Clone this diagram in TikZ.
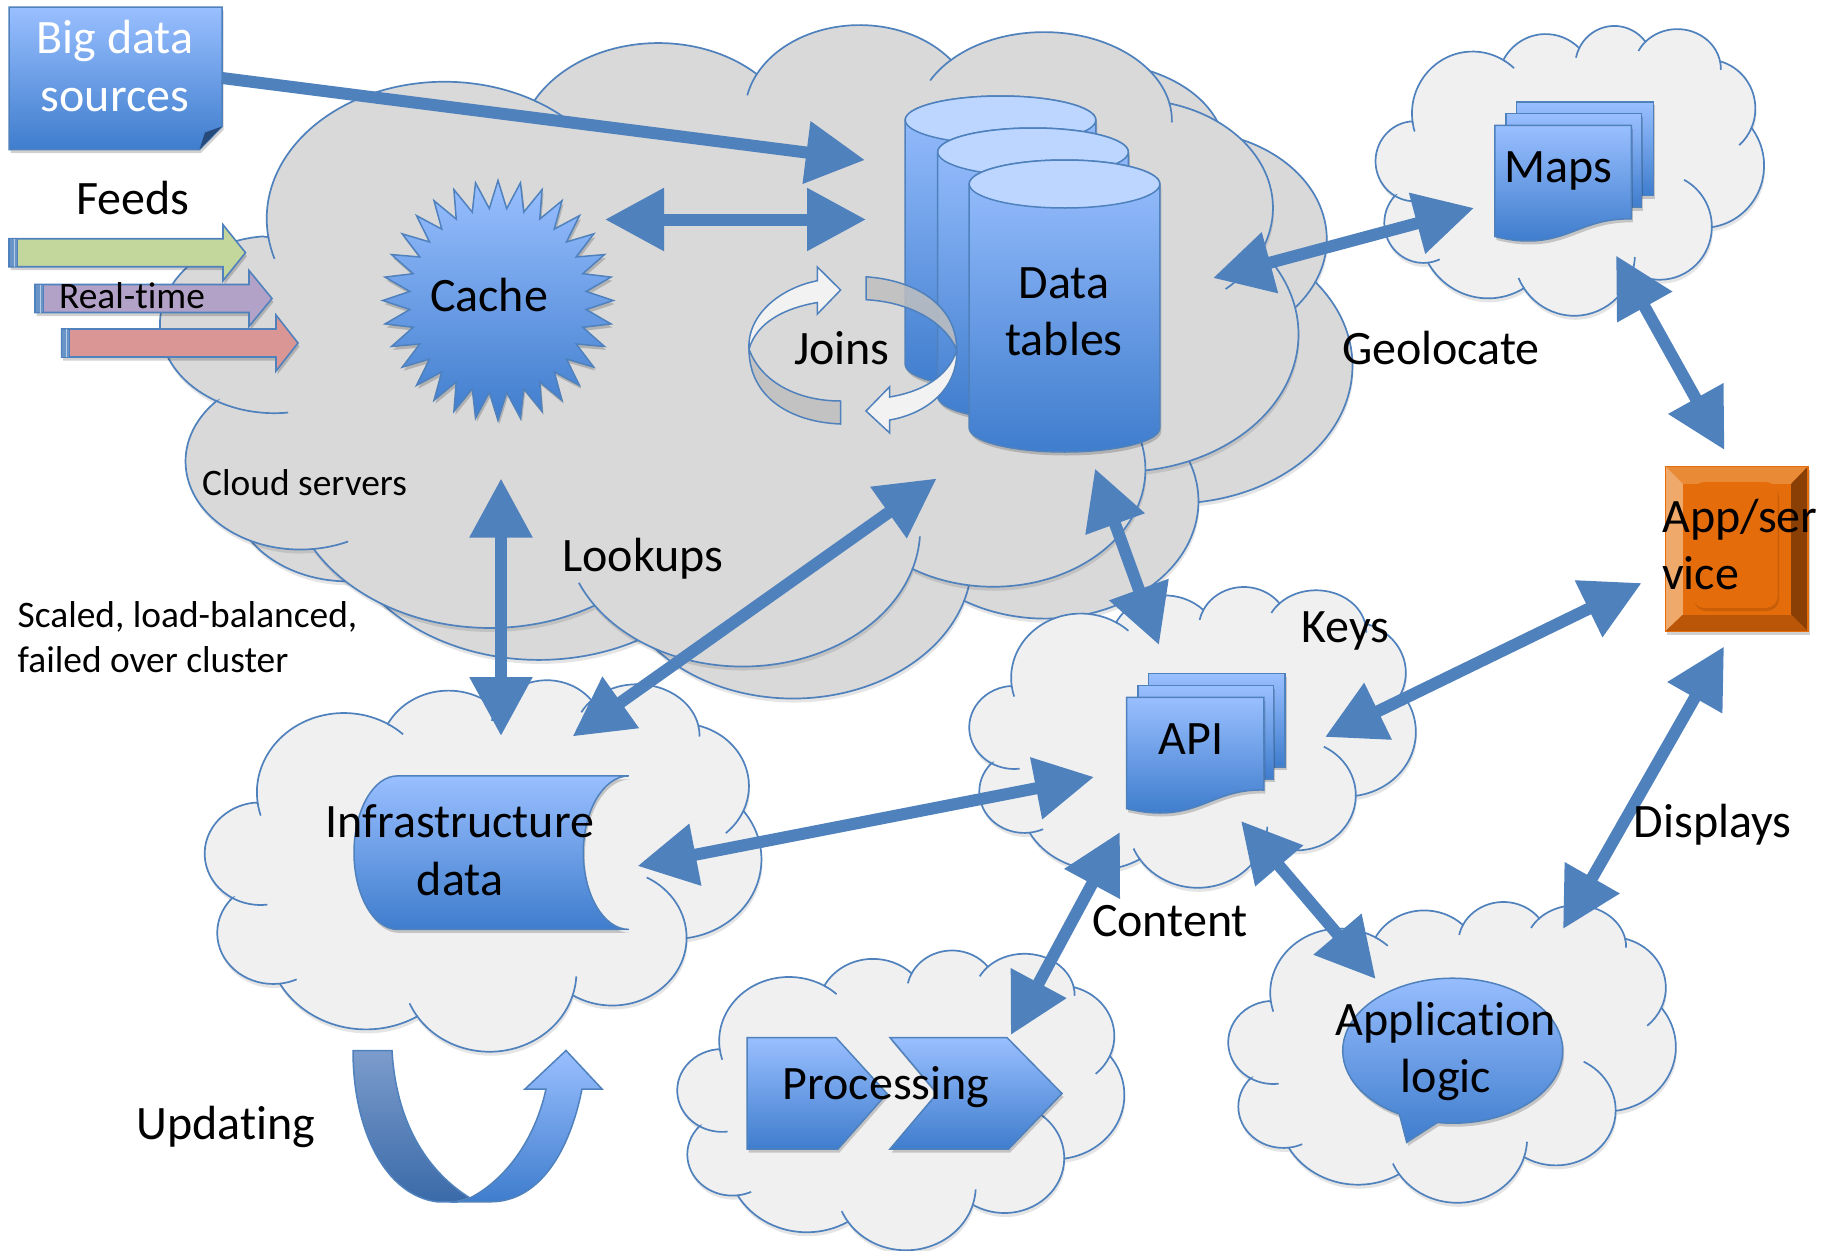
\documentclass[tikz,border=0pt]{standalone}
\usepackage{fontspec}
\setmainfont[Ligatures=NoCommon]{Carlito}
\usetikzlibrary{arrows.meta,shapes.geometric}
\definecolor{edgeblue}{HTML}{4F81BD}
\definecolor{gradtop}{HTML}{99BFFF}
\definecolor{gradbot}{HTML}{3F7DCD}
\definecolor{topface}{HTML}{BCD6FF}
\definecolor{cloudgray}{HTML}{D9D9D9}
\definecolor{cloudlight}{HTML}{F0F0F0}
\definecolor{feedgreen}{HTML}{C3D69B}
\definecolor{feedpurple}{HTML}{B3A2C7}
\definecolor{feedred}{HTML}{D99694}
\definecolor{updatetop}{HTML}{7C9CCC}
\definecolor{updatebot}{HTML}{3A6AA8}
\tikzset{
  blueshade/.style={top color=gradtop,bottom color=gradbot,middle color=gradtop!50!gradbot,draw=edgeblue,line width=1.5pt},
  softshadow/.style={preaction={fill=black,opacity=.18,transform canvas={xshift=1.5pt,yshift=-3.5pt}}},
  conn/.style={draw=edgeblue,line width=12pt,{Triangle[length=59pt,width=60pt]}-{Triangle[length=59pt,width=60pt]}},
  connone/.style={draw=edgeblue,line width=12pt,-{Triangle[length=59pt,width=60pt]}},
  lbl/.style={inner sep=0pt,align=center,font=\fontsize{48}{57.5}\selectfont},
  small/.style={inner sep=0pt,align=left,font=\fontsize{37.4}{45}\selectfont},
  cloudedge/.style={draw=edgeblue,line width=1.7pt},
  joinwhite/.style={fill=black!5,draw=edgeblue,line width=1.5pt},
  joingray/.style={fill=black!25,fill opacity=.85,draw=edgeblue,line width=1.5pt},
}
% one lobe of the cloud: centre, radii, parametric start and end angle
\newcommand\cloudarc[6]{([shift={(#1,#2)}]#5:#3 and #4) arc[start angle=#5,end angle=#6,x radius=#3,y radius=#4]}
\newcommand\cloudoutline{\cloudarc{10.592}{13.130}{6.753}{9.190}{-187.75}{-59.6}
 -- \cloudarc{18.719}{8.612}{5.333}{7.267}{-152.03}{-45.47}
 -- \cloudarc{26.365}{6.086}{4.365}{5.945}{-153.48}{-37.33}
 -- \cloudarc{33.374}{6.556}{4.857}{5.945}{-136.75}{-11.30}
 -- \cloudarc{36.737}{12.403}{5.333}{7.267}{-74.78}{23.23}
 -- \cloudarc{36.265}{20.886}{6.775}{9.220}{-37.53}{81.86}
 -- \cloudarc{31.439}{29.950}{5.785}{7.867}{.46}{121.98}
 -- \cloudarc{21.913}{33.952}{6.752}{9.215}{16.85}{146.25}
 -- \cloudarc{12.319}{30.039}{7.720}{10.543}{58.98}{150.18}
 -- \cloudarc{5.113}{29.403}{4.360}{5.918}{83.31}{223.11}
 -- \cloudarc{4.125}{20.229}{4.345}{5.945}{120.35}{264.11} -- cycle}
\newcommand\cloudstubs{\cloudarc{4.125}{20.229}{4.345}{5.945}{83}{120.35}
 \cloudarc{5.113}{29.403}{4.360}{5.918}{65.4}{83.31}
 \cloudarc{21.913}{33.952}{6.752}{9.215}{146.25}{157}
 \cloudarc{21.913}{33.952}{6.752}{9.215}{3}{16.85}
 \cloudarc{31.439}{29.950}{5.785}{7.867}{-62.3}{.46}
 \cloudarc{36.737}{12.403}{5.333}{7.267}{23.23}{48.5}
 \cloudarc{33.374}{6.556}{4.857}{5.945}{-11.3}{1}
 \cloudarc{33.374}{6.556}{4.857}{5.945}{-153}{-136.75}
 \cloudarc{26.365}{6.086}{4.365}{5.945}{-168}{-153.48}
 \cloudarc{10.592}{13.130}{6.753}{9.190}{-59.6}{-47}
 \cloudarc{10.592}{13.130}{6.753}{9.190}{-197}{-187.75}}
% name, left, top, width, height, fill
\newcommand\drawcloud[6]{%
 \begin{scope}[x=1pt,y=1pt,shift={(#2pt+1pt,-#3pt-4pt)},xscale=#4/43.2,yscale=-#5/43.2]
  \fill[black,opacity=.10] \cloudoutline;
 \end{scope}
 \begin{scope}[x=1pt,y=1pt,shift={(#2pt,-#3pt)},xscale=#4/43.2,yscale=-#5/43.2]
  \filldraw[cloudedge,fill=#6] \cloudoutline;
  \draw[cloudedge] \cloudstubs;
  \coordinate (#1) at (21.6,21.6);
 \end{scope}}
% centre x, ellipse y, bottom y
\newcommand\tablecyl[3]{%
 \draw[blueshade,softshadow] ({#1-95.3},#2) -- ({#1-95.3},#3) arc[start angle=180,end angle=360,x radius=95.3pt,y radius=24pt]
   -- ({#1+95.3},#2) arc[start angle=0,end angle=180,x radius=95.3pt,y radius=24pt] -- cycle;
 \draw[fill=topface,draw=edgeblue,line width=1.5pt] (#1,#2) ellipse [x radius=95.3pt,y radius=24pt];}
% x0, head base x, tip x, centre y, colour
\newcommand\feedarrow[5]{%
 \draw[fill=#5,draw=edgeblue,line width=1.6pt,softshadow] (#1,#4-14) -- (#2,#4-14) -- (#2,#4-28) -- (#3,#4) -- (#2,#4+28) -- (#2,#4+14) -- (#1,#4+14) -- cycle;
 \draw[fill=edgeblue!85,draw=edgeblue,line width=1pt] (#1,#4-14) rectangle ({#1+8},#4+14);
 \draw[edgeblue!40,line width=1pt] ({#1+5},#4-14) -- ({#1+5},#4+14);}
\begin{document}
\begin{tikzpicture}[x=1pt,y=-1pt]
\useasboundingbox (0,0) rectangle (1833,1250);
\fill[white] (0,0) rectangle (1833,1250);

% clouds
\drawcloud{cloudback}{212.7}{54}{1144}{645}{cloudgray}
\drawcloud{cloudfront}{165.7}{23}{1137}{644}{cloudgray}
\drawcloud{cloudmaps}{1377.5}{25}{388}{291}{cloudlight}
\drawcloud{cloudinfra}{207.5}{679}{556}{373}{cloudlight}
\drawcloud{cloudapi}{971.5}{586}{446}{302}{cloudlight}
\drawcloud{cloudproc}{679.5}{949.5}{446.5}{301}{cloudlight}
\drawcloud{cloudlogic}{1230.5}{901}{447}{302}{cloudlight}

% big data sources
\draw[blueshade,softshadow] (9,7) -- (222,7) -- (222,126.5) -- (199.5,149.5) -- (9,149.5) -- cycle;
\fill[black!40!gradbot] (222,126.5) -- (199.5,149.5) -- (205,132.5) -- cycle;

% feeds
\feedarrow{9}{223}{245.5}{252.7}{feedgreen}
\feedarrow{35}{249}{272}{298.5}{feedpurple}
\feedarrow{61.6}{276}{298}{343}{feedred}

% cache
\node[star,star points=32,star point ratio=1.3,minimum size=240pt,inner sep=0pt,xscale=.96,transform shape,blueshade,softshadow] (cachestar) at (498,300.5) {};

% data tables
\tablecyl{1000.5}{120}{364.5}
\tablecyl{1033}{152}{396.5}
\tablecyl{1064.5}{184}{428}

% joins arrows
\draw[joingray] (840.6,401) -- (840.6,424) .. controls (790,422) and (749,397) .. (749,349) .. controls (760,380) and (795,401) .. (840.6,401) -- cycle;
\draw[joinwhite] (749,349) .. controls (747,315) and (780,288) .. (817.4,280.7) -- (817.4,267) -- (840.6,290) -- (817.4,314) -- (817.4,302.5) .. controls (785,308) and (757,322) .. (749,349) -- cycle;
\draw[joingray] (866,276.8) .. controls (915,280) and (957,305) .. (956.7,350) .. controls (945,322) and (910,302) .. (866,299.7) -- cycle;
\draw[joinwhite] (956.7,350) .. controls (958,390) and (925,414) .. (889.7,420) -- (889.7,433) -- (866,411) -- (889.7,386.7) -- (889.7,397) .. controls (920,392) and (948,378) .. (956.7,350) -- cycle;

% maps
\draw[blueshade,softshadow] (1516.5,101.9) rectangle (1653.5,195.7);
\draw[blueshade,softshadow] (1506,113.6) rectangle (1641.6,207);
\draw[blueshade,softshadow] (1494.8,125.4) -- (1631.4,125.4) -- (1631.4,218.9) .. controls (1585,218) and (1570,241) .. (1528,241) .. controls (1515,241) and (1505,239) .. (1494.8,236.5) -- cycle;

% api
\draw[blueshade,softshadow] (1148.5,673.6) rectangle (1285,766.9);
\draw[blueshade,softshadow] (1138,685.4) rectangle (1273.5,778.8);
\draw[blueshade,softshadow] (1126.5,697.3) -- (1263.8,697.3) -- (1263.8,790) .. controls (1218,789) and (1203,813) .. (1160,813) .. controls (1147,813) and (1137,811) .. (1126.5,808.7) -- cycle;

% infrastructure data
\draw[blueshade,softshadow] (628.8,775.9) -- (397.5,775.9) .. controls (373.5,775.9) and (354,810) .. (354,852.6) .. controls (354,895) and (373.5,929.4) .. (397.5,929.4) -- (628.8,929.4) .. controls (604,929.4) and (583.3,895) .. (583.3,852.6) .. controls (583.3,810) and (604,775.9) .. (628.8,775.9) -- cycle;

% updating arrow
\path[top color=updatetop,bottom color=updatebot,draw=edgeblue,line width=1.5pt] (353,1050.5) -- (392,1050.5) .. controls (396,1120) and (425,1170) .. (470,1198) -- (455,1202) -- (437,1201.8) .. controls (385,1195) and (353,1130) .. (353,1050.5) -- cycle;
\draw[blueshade] (470,1198) .. controls (505,1180) and (535,1140) .. (546,1089) -- (525,1089) -- (566,1050.5) -- (602,1089) -- (582,1089) .. controls (570,1150) and (540,1202) .. (490,1201.8) -- (455,1202) -- cycle;

% processing
\draw[blueshade,softshadow] (747,1037.6) -- (836,1037.6) -- (887,1093.5) -- (838,1149) -- (747,1149) -- cycle;
\draw[blueshade,softshadow] (890,1037.6) -- (1007,1037.6) -- (1062,1093.5) -- (1008.7,1149) -- (890,1149) -- (937,1093.5) -- cycle;

% application logic
\draw[blueshade,softshadow] (1437.4,1122.5) arc[start angle=-98,end angle=241,x radius=110pt,y radius=72.5pt] -- (1406.7,1142.3) -- cycle;

% app/service
\fill[black,opacity=.18] (1667,470) rectangle (1809.5,635);
\fill[fill={rgb,255:red,228;green,108;blue,10}] (1665.4,466.3) rectangle (1808,631.3);
\fill[fill={rgb,255:red,233;green,138;blue,54}] (1665.4,466.3) -- (1808,466.3) -- (1791,484) -- (1683,484) -- cycle;
\fill[fill={rgb,255:red,239;green,169;blue,106}] (1665.4,466.3) -- (1683,484) -- (1683,614.5) -- (1665.4,631.3) -- cycle;
\fill[fill={rgb,255:red,138;green,63;blue,5}] (1808,466.3) -- (1791,484) -- (1791,614.5) -- (1808,631.3) -- cycle;
\fill[fill={rgb,255:red,185;green,86;blue,8}] (1665.4,631.3) -- (1683,614.5) -- (1791,614.5) -- (1808,631.3) -- cycle;
\fill[fill={rgb,255:red,228;green,108;blue,10}] (1683,484) rectangle (1791,614.5);
\fill[black,opacity=.12,rounded corners=12pt] (1694,485) rectangle (1779,611);
\fill[fill={rgb,255:red,228;green,108;blue,10},rounded corners=12pt] (1692.6,482) rectangle (1777.6,608);
\draw[draw={rgb,255:red,228;green,108;blue,10},line width=1.6pt] (1665.4,466.3) rectangle (1808,631.3);

% connector ends
\coordinate (bigdataOut) at (222,78);
\coordinate (tablesInA) at (865,160);
\coordinate (cacheEast) at (605,219.5);
\coordinate (tablesInB) at (866,219.5);
\coordinate (tablesEast) at (1213,278);
\coordinate (mapsWest) at (1474,208);
\coordinate (mapsSouth) at (1616,255.5);
\coordinate (appNorth) at (1724.5,450);
\coordinate (cacheSouth) at (501,478.5);
\coordinate (infraNorthA) at (501,736);
\coordinate (tablesSouthA) at (936.6,478.5);
\coordinate (infraNorthB) at (572.6,736.4);
\coordinate (tablesSouthB) at (1095,468.6);
\coordinate (apiNorth) at (1159,645);
\coordinate (apiEast) at (1325,737);
\coordinate (appWest) at (1641.6,583);
\coordinate (infraEast) at (637.5,866);
\coordinate (apiWest) at (1094,777);
\coordinate (apiSouthA) at (1120,832);
\coordinate (procNorth) at (1010.7,1035);
\coordinate (apiSouthB) at (1241,821);
\coordinate (logicNorthA) at (1375.7,979);
\coordinate (appSouth) at (1724,646.5);
\coordinate (logicNorthB) at (1563,929);

\draw[connone] (bigdataOut) -- (tablesInA);
\draw[conn] (cacheEast) -- (tablesInB);
\draw[conn] (tablesEast) -- (mapsWest);
\draw[conn] (mapsSouth) -- (appNorth);
\draw[conn] (cacheSouth) -- (infraNorthA);
\draw[conn] (tablesSouthA) -- (infraNorthB);
\draw[conn] (tablesSouthB) -- (apiNorth);
\draw[conn] (apiEast) -- (appWest);
\draw[conn] (infraEast) -- (apiWest);
\draw[conn] (apiSouthA) -- (procNorth);
\draw[conn] (apiSouthB) -- (logicNorthA);
\draw[conn] (appSouth) -- (logicNorthB);

% labels
\node[lbl,text=white] (bigdata) at (115,66) {Big data\\sources};
\node[lbl] (feeds) at (133,198) {Feeds};
\node[small] (realtime) at (132,296) {Real-time};
\node[lbl] (cache) at (489,295) {Cache};
\node[small,anchor=west] (cloudservers) at (202,483) {Cloud servers};
\node[small,anchor=west] (scaled) at (17.5,637) {Scaled, load-balanced,\\failed over cluster};
\node[lbl] (joins) at (842,348) {Joins};
\node[lbl] (datatables) at (1064,312) {Data\\tables};
\node[lbl] (lookups) at (643,558.5) {Lookups};
\node[lbl] (geolocate) at (1441,348.5) {Geolocate};
\node[lbl] (maps) at (1558,171) {Maps};
\node[lbl,anchor=west,align=left] (appservice) at (1662,544.5) {App/ser\\vice};
\node[lbl] (keys) at (1345.5,631) {Keys};
\node[lbl] (api) at (1191,739) {API};
\node[lbl] (infra) at (460,850) {Infrastructure\\data};
\node[lbl] (content) at (1170,921) {Content};
\node[lbl] (displays) at (1712.6,825) {Displays};
\node[lbl] (updating) at (225.6,1126.5) {Updating};
\node[lbl] (processing) at (886,1087) {Processing};
\node[lbl] (logic) at (1446,1051.5) {Application\\logic};
\end{tikzpicture}
\end{document}
